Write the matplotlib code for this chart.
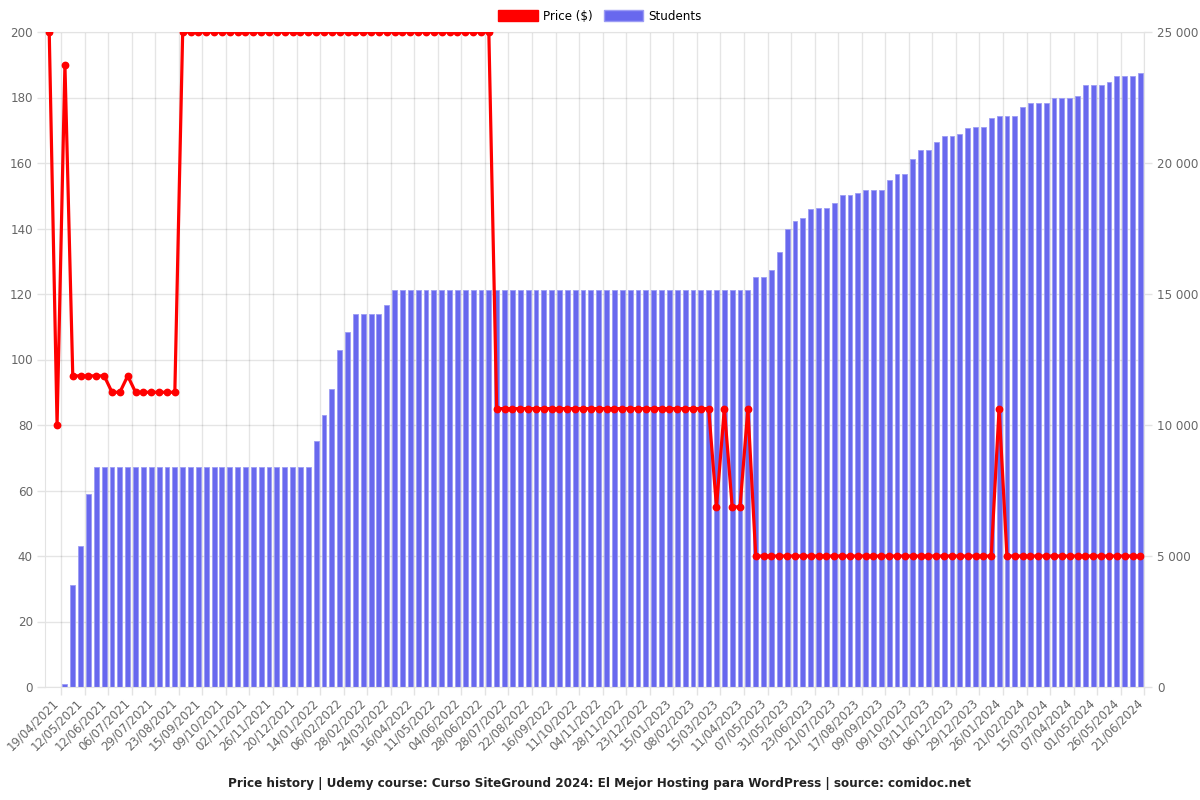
import numpy as np
import matplotlib
matplotlib.use("Agg")
import matplotlib.pyplot as plt
from matplotlib.patches import Patch
from matplotlib.ticker import FuncFormatter

# Price history data (one value per snapshot)
price = [
    200, 80, 190, 95, 95, 95, 95, 95, 90, 90,
    95, 90, 90, 90, 90, 90, 90, 200, 200, 200,
    200, 200, 200, 200, 200, 200, 200, 200, 200, 200,
    200, 200, 200, 200, 200, 200, 200, 200, 200, 200,
    200, 200, 200, 200, 200, 200, 200, 200, 200, 200,
    200, 200, 200, 200, 200, 200, 200, 85, 85, 85,
    85, 85, 85, 85, 85, 85, 85, 85, 85, 85,
    85, 85, 85, 85, 85, 85, 85, 85, 85, 85,
    85, 85, 85, 85, 85, 55, 85, 55, 55, 85,
    40, 40, 40, 40, 40, 40, 40, 40, 40, 40,
    40, 40, 40, 40, 40, 40, 40, 40, 40, 40,
    40, 40, 40, 40, 40, 40, 40, 40, 40, 40,
    40, 85, 40, 40, 40, 40, 40, 40, 40, 40,
    40, 40, 40, 40, 40, 40, 40, 40, 40, 40,
]

students = [
    0, 0, 100, 3890, 5390, 7370, 8380, 8380, 8380, 8380,
    8380, 8380, 8380, 8380, 8380, 8380, 8380, 8380, 8380, 8380,
    8380, 8380, 8380, 8380, 8380, 8380, 8380, 8380, 8380, 8380,
    8380, 8380, 8380, 8380, 9380, 10390, 11370, 12860, 13540, 14240,
    14240, 14240, 14240, 14570, 15170, 15170, 15170, 15170, 15170, 15170,
    15170, 15170, 15170, 15170, 15170, 15170, 15170, 15170, 15170, 15170,
    15170, 15170, 15170, 15170, 15170, 15170, 15170, 15170, 15170, 15170,
    15170, 15170, 15170, 15170, 15170, 15170, 15170, 15170, 15170, 15170,
    15170, 15170, 15170, 15170, 15170, 15170, 15170, 15170, 15170, 15170,
    15660, 15660, 15900, 16610, 17480, 17770, 17890, 18230, 18280, 18280,
    18470, 18770, 18770, 18860, 18960, 18960, 18960, 19340, 19580, 19580,
    20150, 20510, 20510, 20810, 21030, 21030, 21110, 21340, 21360, 21360,
    21700, 21790, 21790, 21790, 22130, 22280, 22280, 22280, 22470, 22490,
    22490, 22550, 22970, 22970, 22970, 23080, 23310, 23310, 23310, 23440,
]

tick_labels = [
    "19/04/2021", "12/05/2021", "12/06/2021", "06/07/2021", "29/07/2021",
    "23/08/2021", "15/09/2021", "09/10/2021", "02/11/2021", "26/11/2021",
    "20/12/2021", "14/01/2022", "06/02/2022", "28/02/2022", "24/03/2022",
    "16/04/2022", "11/05/2022", "04/06/2022", "28/06/2022", "28/07/2022",
    "22/08/2022", "16/09/2022", "11/10/2022", "04/11/2022", "28/11/2022",
    "23/12/2022", "15/01/2023", "08/02/2023", "15/03/2023", "11/04/2023",
    "07/05/2023", "31/05/2023", "23/06/2023", "21/07/2023", "17/08/2023",
    "09/09/2023", "09/10/2023", "03/11/2023", "06/12/2023", "29/12/2023",
    "26/01/2024", "21/02/2024", "15/03/2024", "07/04/2024", "01/05/2024",
    "26/05/2024", "21/06/2024",
]

price_ticks = [0, 20, 40, 60, 80, 100, 120, 140, 160, 180, 200]
student_ticks = [0, 5000, 10000, 15000, 20000, 25000]

n = len(price)
x = np.arange(n)
label_pos = np.arange(1, n, 3)[:len(tick_labels)]
grid_pos = label_pos + 0.5

grey = "#666666"
tick_col = "#e3e3e3"

fig = plt.figure(figsize=(12, 8), dpi=100)
ax1 = fig.add_axes([0.03775, 0.14125, 0.91585, 0.81875])
ax2 = ax1.twinx()

# students on the right axis (bars)
ax1.bar(x, students, width=0.62, color="#6868ee", edgecolor="#9c9cf4", linewidth=0.6, zorder=2)
ax1.set_ylim(0, 25000)
ax1.set_xlim(-0.5, n - 0.5)
ax1.yaxis.tick_right()
ax1.set_yticks(student_ticks)
ax1.yaxis.set_major_formatter(FuncFormatter(lambda v, p: f"{int(v):,}".replace(",", " ")))
ax1.set_yticks([t * 25000 / 200 for t in price_ticks], minor=True)
ax1.tick_params(axis="y", which="major", colors=grey, labelsize=8.6, length=6, width=1, pad=3)
ax1.tick_params(axis="y", which="major", color=tick_col)
ax1.tick_params(axis="y", which="minor", length=0)

ax1.set_xticks(label_pos)
ax1.set_xticklabels(tick_labels, rotation=45, ha="right", va="center", rotation_mode="anchor")
ax1.set_xticks(grid_pos, minor=True)
ax1.tick_params(axis="x", which="major", length=0, colors=grey, labelsize=8.4, pad=10)
ax1.tick_params(axis="x", which="minor", length=6, width=1, color=tick_col)

ax1.set_axisbelow(True)
ax1.grid(True, which="minor", axis="both", color="black", alpha=0.1, linewidth=1)
ax1.grid(True, which="major", axis="y", color="black", alpha=0.1, linewidth=1)
for s in ax1.spines.values():
    s.set_color(tick_col)

# price on the left axis (line)
ax2.plot(x, price, color="#ff0000", linewidth=2.3, marker="o", markersize=4.6, zorder=3)
ax2.set_ylim(0, 200)
ax2.yaxis.tick_left()
ax2.set_yticks(price_ticks)
ax2.tick_params(axis="y", colors=grey, labelsize=8.6, length=6, width=1, pad=3)
ax2.tick_params(axis="y", color=tick_col)
for s in ax2.spines.values():
    s.set_visible(False)

handles = [
    Patch(facecolor="#ff0000", edgecolor="#ff0000", label="Price ($)"),
    Patch(facecolor="#6868ee", edgecolor="#9c9cf4", label="Students"),
]
fig.legend(handles=handles, loc="center", bbox_to_anchor=(0.5, 0.98), ncol=2, frameon=False,
           fontsize=8.6, handlelength=3.3, handleheight=1.0, handletextpad=0.45, columnspacing=0.9)

fig.text(0.5, 0.021, "Price history | Udemy course: Curso SiteGround 2024: El Mejor Hosting para WordPress | source: comidoc.net",
         ha="center", va="center", fontsize=8.65, fontweight="bold", color="#222222")

fig.savefig("out.png", dpi=100)
